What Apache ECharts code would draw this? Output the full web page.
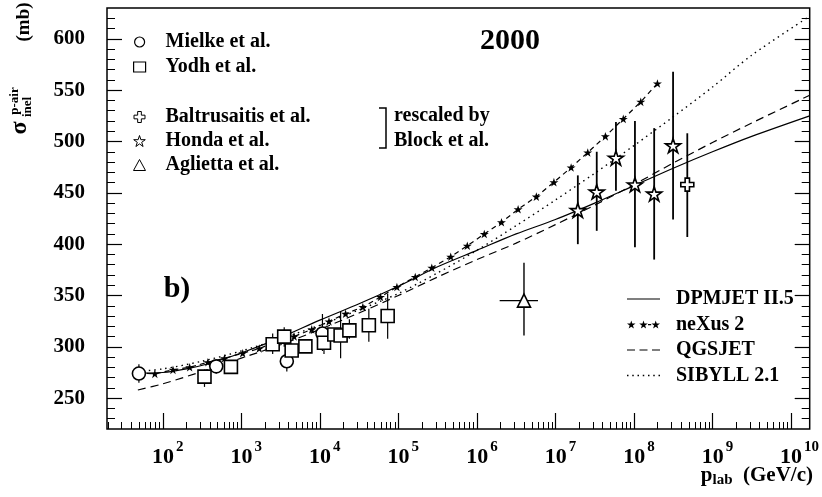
<!DOCTYPE html>
<html><head><meta charset="utf-8">
<script src="https://cdn.jsdelivr.net/npm/echarts@6/dist/echarts.min.js"></script>
<style>html,body{margin:0;padding:0;background:#fff}#c{width:822px;height:497px}</style>
</head><body><div id="c"></div>
<script>
// ---------- axis ticks ----------
const xMajorTicks = [1e2, 1e3, 1e4, 1e5, 1e6, 1e7, 1e8, 1e9, 1e10];
const yMajorTicks = [250, 300, 350, 400, 450, 500, 550, 600];
const xMin = 19.5, xMax = 1.73e10, yMin = 220, yMax = 630;

// ---------- data: Mielke et al. ----------
const mielkeX = [49.7, 480, 3.8e3, 1.08e4];
const mielkeY = [274, 281, 286, 313];
const mielkeLo = [265, 274, 276, 296];
const mielkeHi = [283, 287, 296, 332];
// ---------- Yodh et al. ----------
const yodhX = [340, 738, 2510, 3520, 4380, 6550, 1.13e4, 1.53e4, 1.84e4, 2.38e4, 4.21e4, 7.31e4];
const yodhY = [271, 280.5, 302.5, 310, 296.5, 300.5, 304, 312, 311, 316, 321, 330];
const yodhLo = [261, 274, 293, 300, 290, 297, 293, 306, 289, 308, 305, 308];
const yodhHi = [278, 287, 313, 319, 303, 304, 313, 318, 335, 327, 337, 352];
// ---------- Baltrusaitis et al. ----------
const baltX = [4.78e8];
const baltY = [458];
const baltLo = [407];
const baltHi = [508];
// ---------- Honda et al. ----------
const hondaX = [1.93e7, 3.36e7, 5.9e7, 1.03e8, 1.81e8, 3.15e8];
const hondaY = [433, 451, 484, 458, 449, 496];
const hondaLo = [400, 413, 452, 397, 385, 424];
const hondaHi = [467, 490, 519, 520, 513, 568];
// ---------- Aglietta et al. ----------
const aglX = [3.98e6];
const aglY = [345];
const aglLo = [311];
const aglHi = [382];
const aglXLo = [1.95e6];
const aglXHi = [6.0e6];

// ---------- models ----------
const dpmX = [48.2, 100, 200, 400, 1e3, 3.16e3, 1e4, 3.16e4, 1e5, 3.16e5, 1e6, 3.16e6, 1e7, 3.16e7, 1e8, 3.16e8, 1e9, 3.16e9, 1.73e10];
const dpmY = [274.5, 275, 278.5, 284, 294, 309, 326, 342, 359, 378, 394, 410, 424, 440, 457, 474, 490, 505, 525];
const nexX = [48.2, 79.3, 135, 220, 375, 611, 1042, 1694, 2704, 4710, 7889, 1.309e4, 2.128e4, 3.532e4, 5.916e4, 9.59e4, 1.641e5, 2.667e5, 4.645e5, 7.551e5, 1.242e6, 2.056e6, 3.35e6, 5.715e6, 9.572e6, 1.585e7, 2.582e7, 4.325e7, 7.311e7, 1.222e8, 1.991e8];
const nexY = [274.9, 273.7, 277.6, 280.1, 285, 288.9, 293.8, 298.4, 304.6, 310.1, 317, 324.8, 332.3, 338.8, 348.6, 358.3, 368.1, 377, 387.7, 398.4, 409.9, 421.3, 434, 446.3, 460.4, 474.7, 489.3, 505, 522, 538.6, 556.5];
const qgsX = [48.2, 100, 316, 1e3, 3.16e3, 1e4, 3.16e4, 1e5, 3.16e5, 1e6, 3.16e6, 1e7, 3.16e7, 1e8, 3.16e8, 1e9, 3.16e9, 1.73e10];
const qgsY = [258, 264, 276, 289, 302, 317, 333, 350, 368, 385, 401, 419, 438, 458, 479, 499, 518, 545];
const sibX = [48.2, 100, 316, 1e3, 3.16e3, 1e4, 3.16e4, 1e5, 3.16e5, 1e6, 3.16e6, 1e7, 3.16e7, 1e8, 3.16e8, 1e9, 3.16e9, 1.73e10];
const sibY = [276, 278.5, 286, 296, 308, 321, 336, 352, 372, 394, 418, 443, 469, 496, 524, 553, 584, 622];

// minor tick positions (axis decoration)
const xMinorTicks = [];
for (let e = 1; e <= 9; e++) for (let k = 2; k <= 9; k++) xMinorTicks.push(k * Math.pow(10, e));
const yMinorTicks = [];
for (let v = 230; v <= 620; v += 10) if (v % 50 !== 0) yMinorTicks.push(v);

const FONT = "'Liberation Serif', 'Times New Roman', serif";
const STAR = 'path://M0,-10L2.245,-3.09L9.51,-3.09L3.633,1.18L5.88,8.09L0,3.82L-5.88,8.09L-3.633,1.18L-9.51,-3.09L-2.245,-3.09Z';
const CROSS = 'path://M-3,-9L3,-9L3,-3L9,-3L9,3L3,3L3,9L-3,9L-3,3L-9,3L-9,-3L-3,-3Z';

// legend icon shapes (decoration)
function starPath(cx) {
  const f = (a, b) => (cx + a).toFixed(2) + ',' + b.toFixed(2);
  return 'M' + f(0, 0) + 'L' + f(1.01, 3.11) + 'L' + f(4.28, 3.11) + 'L' + f(1.64, 5.03) + 'L' + f(2.65, 8.14) + 'L' + f(0, 6.22) +
    'L' + f(-2.65, 8.14) + 'L' + f(-1.64, 5.03) + 'L' + f(-4.28, 3.11) + 'L' + f(-1.01, 3.11) + 'Z';
}
function rectPath(x0, x1, y0, y1) { return 'M' + x0 + ',' + y0 + 'L' + x1 + ',' + y0 + 'L' + x1 + ',' + y1 + 'L' + x0 + ',' + y1 + 'Z'; }
const ICON_SOLID = 'path://' + rectPath(0, 33, 3.4, 4.6);
const ICON_DASH = 'path://' + rectPath(0, 8, 3.4, 4.6) + rectPath(12.5, 20.5, 3.4, 4.6) + rectPath(25, 33, 3.4, 4.6);
let dots = ''; for (let i = 0; i < 7; i++) dots += rectPath(i * 5.25, i * 5.25 + 1.5, 3.3, 4.7);
const ICON_DOT = 'path://' + dots;
const ICON_NEX = 'path://' + starPath(4.28) + starPath(16.5) + rectPath(21, 24.2, 3.6, 4.8) + starPath(28.72);

const zip = (a, b) => a.map((v, i) => [v, b[i]]);
function errData(x, y, lo, hi, xlo, xhi) {
  return x.map((v, i) => [v, y[i], lo[i], hi[i], xlo ? xlo[i] : null, xhi ? xhi[i] : null]);
}
function errSeries(name, data, lw) {
  return {
    type: 'custom', name: name, data: data, z: 2, silent: true,
    renderItem: function (params, api) {
      const x = api.value(0), lo = api.value(2), hi = api.value(3);
      const p1 = api.coord([x, lo]), p2 = api.coord([x, hi]);
      const children = [{ type: 'line', shape: { x1: p1[0], y1: p1[1], x2: p2[0], y2: p2[1] }, style: { stroke: '#000', lineWidth: lw } }];
      const xl = api.value(4), xh = api.value(5);
      if (xl && xh && !isNaN(xl)) {
        const q1 = api.coord([xl, api.value(1)]), q2 = api.coord([xh, api.value(1)]);
        children.push({ type: 'line', shape: { x1: q1[0], y1: q1[1], x2: q2[0], y2: q2[1] }, style: { stroke: '#000', lineWidth: lw } });
      }
      return { type: 'group', children: children };
    }
  };
}
const openStyle = { color: '#fff', borderColor: '#000', borderWidth: 1.6, opacity: 1 };

const chart = echarts.init(document.getElementById('c'), null, { renderer: 'canvas' });
const lblBase = { fontFamily: FONT, fontWeight: 'bold', color: '#000' };
const legendText = { fontFamily: FONT, fontWeight: 'bold', fontSize: 20, color: '#000', lineHeight: 20, padding: [0, 0, 0, 15] };

chart.setOption({
  animation: false,
  backgroundColor: '#fff',
  grid: { left: 107, top: 8, right: 9, bottom: 68, show: true, borderColor: '#000', borderWidth: 1.5, backgroundColor: 'transparent' },
  xAxis: [
    {
      type: 'log', position: 'bottom', min: xMin, max: xMax, splitLine: { show: false },
      axisLine: { show: false },
      axisTick: { show: true, inside: true, length: 16, customValues: xMajorTicks, lineStyle: { color: '#000', width: 1.2 } },
      axisLabel: {
        customValues: xMajorTicks, margin: 11, showMinLabel: true, showMaxLabel: true,
        formatter: function (v) { const e = Math.round(Math.log10(v)); return '{' + (e >= 10 ? 'c' : 'b') + '|10}{s|' + e + '}'; },
        rich: {
          b: Object.assign({ fontSize: 22, lineHeight: 34, padding: [0, 0, 0, 10] }, lblBase),
          c: Object.assign({ fontSize: 22, lineHeight: 34, padding: [0, 0, 0, 17] }, lblBase),
          s: Object.assign({ fontSize: 15, lineHeight: 2, verticalAlign: 'top', padding: [0, 0, 0, 2] }, lblBase)
        }
      }
    },
    {
      type: 'log', position: 'bottom', min: xMin, max: xMax, splitLine: { show: false },
      axisLine: { show: false }, axisLabel: { show: false },
      axisTick: { show: true, inside: true, length: 7, customValues: xMinorTicks, lineStyle: { color: '#000', width: 1 } }
    }
  ],
  yAxis: [
    {
      type: 'value', position: 'left', min: yMin, max: yMax, splitLine: { show: false }, axisLine: { show: false },
      axisTick: { show: true, inside: true, length: 15, customValues: yMajorTicks, lineStyle: { color: '#000', width: 1.2 } },
      axisLabel: Object.assign({ customValues: yMajorTicks, fontSize: 21, margin: 22 }, lblBase)
    },
    {
      type: 'value', position: 'left', min: yMin, max: yMax, splitLine: { show: false }, axisLine: { show: false }, axisLabel: { show: false },
      axisTick: { show: true, inside: true, length: 8, customValues: yMinorTicks, lineStyle: { color: '#000', width: 1 } }
    },
    {
      type: 'value', position: 'right', min: yMin, max: yMax, splitLine: { show: false }, axisLine: { show: false }, axisLabel: { show: false },
      axisTick: { show: true, inside: true, length: 15, customValues: yMajorTicks, lineStyle: { color: '#000', width: 1.2 } }
    },
    {
      type: 'value', position: 'right', min: yMin, max: yMax, splitLine: { show: false }, axisLine: { show: false }, axisLabel: { show: false },
      axisTick: { show: true, inside: true, length: 8, customValues: yMinorTicks, lineStyle: { color: '#000', width: 1 } }
    }
  ],
  legend: [
    { data: ['Mielke et al.', 'Yodh et al.'], orient: 'vertical', left: 133, top: 32, padding: 0, itemWidth: 12, itemHeight: 10, itemGap: 5, selectedMode: false,
      itemStyle: { borderWidth: 1.2 }, textStyle: legendText },
    { data: ['Baltrusaitis et al.', 'Honda et al.', 'Aglietta et al.'], orient: 'vertical', left: 133, top: 107, padding: 0, itemWidth: 12, itemHeight: 11, itemGap: 4, selectedMode: false,
      itemStyle: { borderWidth: 1 }, textStyle: legendText },
    { data: [
        { name: 'DPMJET II.5', icon: ICON_SOLID },
        { name: 'neXus 2', icon: ICON_NEX },
        { name: 'QGSJET', icon: ICON_DASH },
        { name: 'SIBYLL 2.1', icon: ICON_DOT }
      ], orient: 'vertical', left: 627, top: 289, padding: 0, itemWidth: 33, itemHeight: 9, itemGap: 5.5, selectedMode: false,
      textStyle: Object.assign({}, legendText, { padding: [0, 0, 0, 11] }) }
  ],
  graphic: [
    { type: 'text', x: 510, y: 41, style: { text: '2000', font: 'bold 30px ' + FONT, textAlign: 'center', textVerticalAlign: 'middle', fill: '#000' } },
    { type: 'text', x: 177, y: 289, style: { text: 'b)', font: 'bold 30px ' + FONT, textAlign: 'center', textVerticalAlign: 'middle', fill: '#000' } },
    { type: 'polyline', shape: { points: [[379, 108], [386, 108], [386, 148], [379, 148]] }, style: { stroke: '#000', lineWidth: 1.5, fill: null } },
    { type: 'text', x: 394, y: 116, style: { text: 'rescaled by', font: 'bold 20px ' + FONT, textAlign: 'left', textVerticalAlign: 'middle', fill: '#000' } },
    { type: 'text', x: 394, y: 141, style: { text: 'Block et al.', font: 'bold 20px ' + FONT, textAlign: 'left', textVerticalAlign: 'middle', fill: '#000' } },
    // y axis title
    { type: 'text', x: 24, y: 22, rotation: Math.PI / 2, style: { text: '(mb)', font: 'bold 19px ' + FONT, textAlign: 'center', textVerticalAlign: 'middle', fill: '#000' } },
    { type: 'text', x: 20, y: 128, rotation: Math.PI / 2, style: { text: 'σ', font: 'bold 24px ' + FONT, textAlign: 'center', textVerticalAlign: 'middle', fill: '#000' } },
    { type: 'text', x: 15, y: 101, rotation: Math.PI / 2, style: { text: 'p-air', font: 'bold 13px ' + FONT, textAlign: 'center', textVerticalAlign: 'middle', fill: '#000' } },
    { type: 'text', x: 28, y: 107, rotation: Math.PI / 2, style: { text: 'inel', font: 'bold 13px ' + FONT, textAlign: 'center', textVerticalAlign: 'middle', fill: '#000' } },
    // x axis title
    { type: 'text', x: 813, y: 476, style: { text: '{a|p}{b|lab}{a|  (GeV/c)}', textAlign: 'right', textVerticalAlign: 'middle', fill: '#000',
      rich: { a: { font: 'bold 21px ' + FONT, lineHeight: 24, fill: '#000' }, b: { font: 'bold 15px ' + FONT, lineHeight: 12, verticalAlign: 'bottom', fill: '#000' } } } }
  ],
  series: [
    { type: 'line', name: 'DPMJET II.5', data: zip(dpmX, dpmY), symbol: 'none', smooth: 0.3, z: 3,
      lineStyle: { color: '#000', width: 1.2, type: 'solid' }, itemStyle: { color: '#000' } },
    { type: 'line', name: 'neXus 2', data: zip(nexX, nexY), symbol: STAR, symbolSize: 9, symbolKeepAspect: true, showAllSymbol: true, z: 3,
      lineStyle: { color: '#000', width: 1.2, type: [5, 4] }, itemStyle: { color: '#000' } },
    { type: 'line', name: 'QGSJET', data: zip(qgsX, qgsY), symbol: 'none', smooth: 0.3, z: 3,
      lineStyle: { color: '#000', width: 1.2, type: [8, 5] }, itemStyle: { color: '#000' } },
    { type: 'line', name: 'SIBYLL 2.1', data: zip(sibX, sibY), symbol: 'none', smooth: 0.3, z: 3,
      lineStyle: { color: '#000', width: 1.4, type: [1.5, 4] }, itemStyle: { color: '#000' } },

    errSeries('errMielke', errData(mielkeX, mielkeY, mielkeLo, mielkeHi), 1.2),
    errSeries('errYodh', errData(yodhX, yodhY, yodhLo, yodhHi), 1.2),
    errSeries('errBalt', errData(baltX, baltY, baltLo, baltHi), 1.8),
    errSeries('errHonda', errData(hondaX, hondaY, hondaLo, hondaHi), 1.8),
    errSeries('errAgl', errData(aglX, aglY, aglLo, aglHi, aglXLo, aglXHi), 1.4),

    { type: 'scatter', name: 'Mielke et al.', data: zip(mielkeX, mielkeY), symbol: 'circle', symbolSize: 13, itemStyle: openStyle, z: 5 },
    { type: 'scatter', name: 'Yodh et al.', data: zip(yodhX, yodhY), symbol: 'rect', symbolSize: 13, itemStyle: openStyle, z: 5 },
    { type: 'scatter', name: 'Baltrusaitis et al.', data: zip(baltX, baltY), symbol: CROSS, symbolSize: 13, symbolKeepAspect: true, itemStyle: openStyle, z: 5 },
    { type: 'scatter', name: 'Honda et al.', data: zip(hondaX, hondaY), symbol: STAR, symbolSize: 15, symbolKeepAspect: true, itemStyle: openStyle, z: 5 },
    { type: 'scatter', name: 'Aglietta et al.', data: zip(aglX, aglY), symbol: 'triangle', symbolSize: 13, itemStyle: openStyle, z: 5 }
  ]
});
</script></body></html>
